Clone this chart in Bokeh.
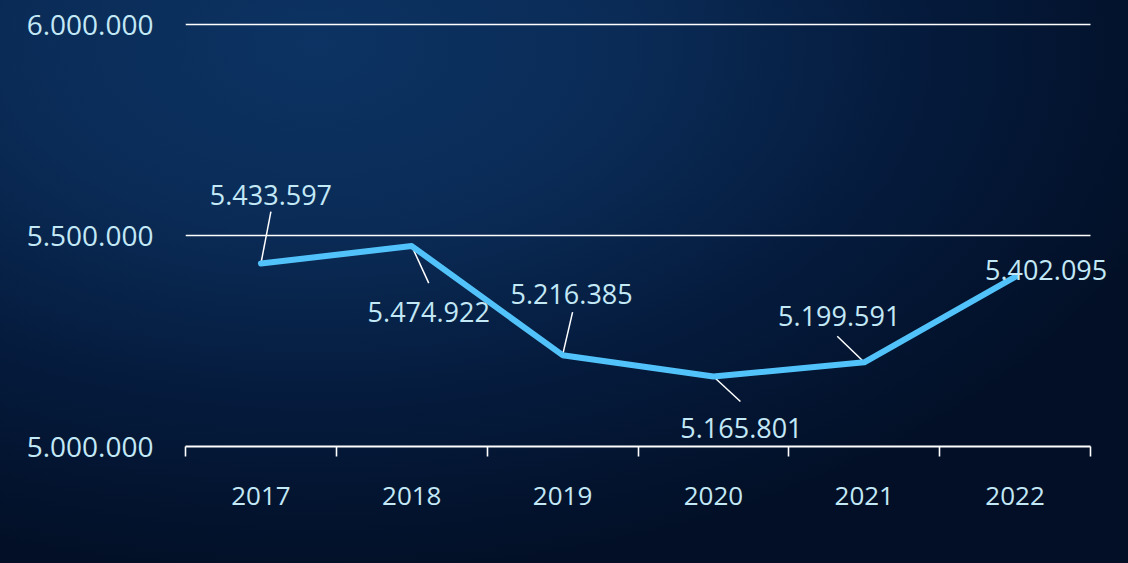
from bokeh.plotting import figure
from bokeh.layouts import column
from bokeh.models import (Range1d, FixedTicker, Legend, LegendItem, ColumnDataSource,
                          GlobalInlineStyleSheet, LabelSet)
from bokeh.embed import file_html
from bokeh.resources import INLINE
from bokeh.core.properties import value

# ---------------- data ----------------
years = ["2017", "2018", "2019", "2020", "2021", "2022"]
values = [5433597, 5474922, 5216385, 5165801, 5199591, 5402095]
label_texts = ["5.433.597", "5.474.922", "5.216.385", "5.165.801", "5.199.591", "5.402.095"]
y_ticks = [5000000, 5500000, 6000000]
y_tick_labels = ["5.000.000", "5.500.000", "6.000.000"]

# ---------------- styling (pixel offsets for labels / leader lines, screen px, down = +) ----
label_dx = [10, 17, 9, 28, -25, 31]
label_dy = [-69, 66, -61, 51, -46, -7]
leader_dx = [10, 17, 10, 27, -27, 0]
leader_dy = [-52, 37, -43, 25, -26, 0]

FONT = "Open Sans"
TXT = "#c3e8f6"
LINE = "#52c3fa"

W, H = 1112, 530
LEG_H = 25
ML, MR = 185, 0
FW_DATA = 905         # pixels spanned by the six year bands
MT_VIS = 24           # where the top tick (6.000.000) sits
MT = 4                # frame top (leave room so the top grid line is not clipped)
FH_DATA = 422         # pixels between 5.000.000 and 6.000.000
MB = H - MT_VIS - FH_DATA

n = len(years)
xs = [i + 0.5 for i in range(n)]
px_x = n / FW_DATA
px_y = (y_ticks[-1] - y_ticks[0]) / FH_DATA
x_right = n + (W - ML - MR - FW_DATA) * px_x
y_top = y_ticks[-1] + (MT_VIS - MT) * px_y

p = figure(width=W, height=H, output_backend="svg", toolbar_location=None,
           x_range=Range1d(0, x_right), y_range=Range1d(y_ticks[0], y_top),
           min_border_left=ML, min_border_right=MR, min_border_top=MT, min_border_bottom=MB)
p.background_fill_alpha = 0
p.border_fill_alpha = 0
p.outline_line_alpha = 0
p.stylesheets = [GlobalInlineStyleSheet(css="""
html, body { background: radial-gradient(ellipse 80% 95% at 28% 8%, #0c3363 0%, #0a2b56 35%, #051b3d 66%, #020f26 100%) fixed; }
""")]

# grid lines only across the six year bands
p.xgrid.visible = False
p.ygrid.visible = False
p.segment(x0=[0] * 2, y0=y_ticks[1:], x1=[n] * 2, y1=y_ticks[1:],
          line_color="white", line_width=1.6)

# y axis
p.yaxis.ticker = FixedTicker(ticks=y_ticks)
p.yaxis.major_label_overrides = {t: l for t, l in zip(y_ticks, y_tick_labels)}
p.yaxis.axis_line_alpha = 0
p.yaxis.major_tick_line_alpha = 0
p.yaxis.minor_tick_line_alpha = 0
p.yaxis.major_tick_out = 0
p.yaxis.major_label_standoff = 32
p.yaxis.major_label_text_font = FONT
p.yaxis.major_label_text_font_size = "28px"
p.yaxis.major_label_text_color = TXT

# x axis: labels at centres, ticks at boundaries (minor)
p.xaxis.bounds = (0, n)
p.xaxis.ticker = FixedTicker(ticks=xs, minor_ticks=list(range(n + 1)))
p.xaxis.major_label_overrides = {x: y for x, y in zip(xs, years)}
p.xaxis.axis_line_color = "white"
p.xaxis.axis_line_width = 2
p.xaxis.major_tick_line_alpha = 0
p.xaxis.major_tick_out = 0
p.xaxis.major_tick_in = 0
p.xaxis.minor_tick_line_color = "white"
p.xaxis.minor_tick_line_width = 1.6
p.xaxis.minor_tick_out = 10
p.xaxis.minor_tick_in = 0
p.xaxis.major_label_standoff = 30
p.xaxis.major_label_text_font = FONT
p.xaxis.major_label_text_font_size = "26px"
p.xaxis.major_label_text_color = TXT

src = ColumnDataSource(dict(x=xs, y=values, t=label_texts,
                            dx=label_dx, dy=[-d for d in label_dy]))

# leader lines
x1 = [x + d * px_x for x, d in zip(xs, leader_dx)]
y1 = [v - d * px_y for v, d in zip(values, leader_dy)]
p.segment(x0=xs, y0=values, x1=x1, y1=y1, line_color="white", line_width=1.5)

r = p.line("x", "y", source=src, line_color=LINE, line_width=6,
           line_cap="round", line_join="round")

labels = LabelSet(x="x", y="y", text="t", source=src, x_offset="dx", y_offset="dy",
                  text_align="center", text_baseline="middle", text_font=value(FONT),
                  text_font_size="27px", text_color=TXT)
p.add_layout(labels)

# legend strip below the chart (series key without a name)
pl = figure(width=W, height=LEG_H, output_backend="svg", toolbar_location=None,
            x_axis_type=None, y_axis_type=None, min_border=0)
pl.background_fill_alpha = 0
pl.border_fill_alpha = 0
pl.outline_line_alpha = 0
rl = pl.line(x=[], y=[], line_color=LINE, line_width=6, line_cap="round", line_join="round")
legend = Legend(items=[LegendItem(label=" ", renderers=[rl])],
                location=(540, 2), glyph_width=50, glyph_height=8,
                label_width=0, label_height=8, label_standoff=0, label_text_font_size="1px",
                padding=0, margin=0, spacing=0,
                border_line_alpha=0, background_fill_alpha=0)
pl.add_layout(legend, "center")

layout = column(p, pl, spacing=0)
open("out.html", "w").write(file_html(layout, INLINE))
